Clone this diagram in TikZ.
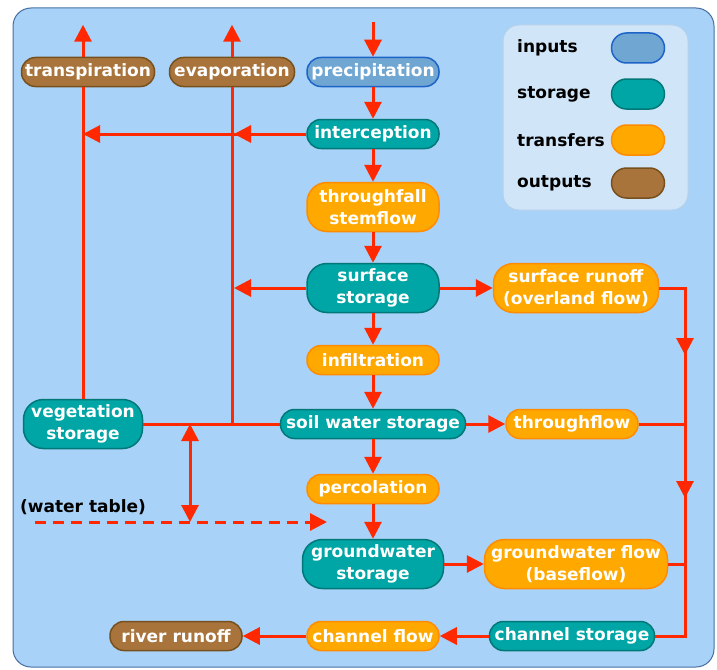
\documentclass[tikz,border=0pt]{standalone}
\usepackage{fontspec}
\setmainfont{DejaVu Sans}
\usetikzlibrary{positioning,arrows.meta}

\definecolor{bgblue}{RGB}{168,210,247}
\definecolor{bgline}{RGB}{70,110,160}
\definecolor{keybg}{RGB}{208,229,248}
\definecolor{keyline}{RGB}{180,208,236}
\definecolor{tealfill}{RGB}{0,165,165}
\definecolor{tealline}{RGB}{0,120,120}
\definecolor{orangefill}{RGB}{255,168,0}
\definecolor{orangeline}{RGB}{255,140,0}
\definecolor{brownfill}{RGB}{168,116,60}
\definecolor{brownline}{RGB}{120,80,30}
\definecolor{bluefill}{RGB}{112,166,210}
\definecolor{blueline}{RGB}{30,100,200}
\definecolor{flowred}{RGB}{255,40,0}

\begin{document}
\begin{tikzpicture}[x=1pt,y=-1pt,on grid,
    box/.style={rectangle,inner sep=0pt,line width=1.5pt,text=white,align=center,
      font=\bfseries\fontsize{17}{22}\selectfont,minimum width=132pt,minimum height=29pt,rounded corners=14pt},
    two/.style={minimum height=49pt,rounded corners=20pt},
    inp/.style={box,fill=bluefill,draw=blueline},
    store/.style={box,fill=tealfill,draw=tealline},
    trans/.style={box,fill=orangefill,draw=orangeline},
    outp/.style={box,fill=brownfill,draw=brownline},
    key/.style={text=black,font=\bfseries\fontsize{17}{22}\selectfont,anchor=west,inner sep=0pt},
    flow/.style={draw=flowred,line width=3pt},
    arrow/.style={flow,-{Triangle[length=17pt,width=17pt]}}]
    \useasboundingbox (0,0) rectangle (717,669);
    \draw[fill=bgblue,draw=bgline,line width=1pt,rounded corners=18pt] (13,8) rectangle (714,667);

    % legend
    \node[draw=keyline,fill=keybg,line width=1pt,rounded corners=16pt,minimum width=185pt,minimum height=185pt] (legend) at (595.5,117.5) {};
    \node[key] (kin) at (517,48) {inputs};
    \node[key] (kstore) at (517,94) {storage};
    \node[key] (ktrans) at (517,140) {transfers};
    \node[key] (kout) at (517,183) {outputs};
    \node[inp,minimum width=53pt,minimum height=30pt,rounded corners=15pt] at (638,48) {};
    \node[store,minimum width=53pt,minimum height=30pt,rounded corners=15pt] at (638,94) {};
    \node[trans,minimum width=53pt,minimum height=30pt,rounded corners=15pt] at (638,140) {};
    \node[outp,minimum width=53pt,minimum height=30pt,rounded corners=15pt] at (638,183) {};

    % main column
    \node[inp] (precip) at (373,72) {precipitation};
    \node[store] (intercept) [below=62pt of precip] {interception};
    \node[trans,two] (through) [below=73pt of intercept] {throughfall\\stemflow};
    \node[store,two] (surface) [below=81pt of through] {surface\\storage};
    \node[trans] (infil) [below=72pt of surface] {infiltration};
    \node[store,minimum width=185pt] (soil) [below=64pt of infil] {soil water storage};
    \node[trans] (perc) [below=65pt of soil] {percolation};
    \node[store,two,minimum width=141pt] (ground) [below=75pt of perc] {groundwater\\storage};
    \node[trans] (chflow) [below=72pt of ground] {channel flow};

    % right column
    \node[trans,two,minimum width=165pt] (runoff) [right=203pt of surface] {surface runoff\\(overland flow)};
    \node[trans] (thflow) [right=199pt of soil] {throughflow};
    \node[trans,two,minimum width=183pt] (gwflow) [right=203pt of ground] {groundwater flow\\(baseflow)};
    \node[store,minimum width=165pt] (chstore) [right=199pt of chflow] {channel storage};

    % left side
    \node[outp,minimum width=133pt] (transp) at (88,72) {transpiration};
    \node[outp,minimum width=125pt] (evap) at (232,72) {evaporation};
    \node[store,two,minimum width=119pt] (veg) at (83,424) {vegetation\\storage};
    \node[outp] (river) [left=197pt of chflow] {river runoff};
    \node[key,anchor=center] (wtable) at (83,507) {(water table)};

    \coordinate (rain) at (373,22);
    \coordinate (tj) at (83,134);
    \coordinate (ej) at (234,134);
    \coordinate (sj) at (234,288);
    \coordinate (wtop) at (190,424);
    \coordinate (wbot) at (190,522);
    \coordinate (wstart) at (35,522);
    \coordinate (wend) at (327,522);
    \coordinate (r1) at (685,355);
    \coordinate (r2) at (685,498);

    % down the middle
    \draw[arrow] (rain) -- (precip);
    \draw[arrow] (precip) -- (intercept);
    \draw[arrow] (intercept) -- (through);
    \draw[arrow] (through) -- (surface);
    \draw[arrow] (surface) -- (infil);
    \draw[arrow] (infil) -- (soil);
    \draw[arrow] (soil) -- (perc);
    \draw[arrow] (perc) -- (ground);

    % outputs up top
    \draw[arrow] (transp.north -| tj) -- ++(0,-32);
    \draw[arrow] (evap.north) -- ++(0,-32);
    \draw[flow] (veg.north) -- (transp.south -| tj);
    \draw[flow] (evap.south) -- (evap.south |- soil.west);
    \draw[arrow] (intercept) -- (tj);
    \draw[arrow] ([xshift=20pt]ej) -- (ej);
    \draw[arrow] (surface) -- (sj);
    \draw[flow] (veg.east) -- (soil.west);

    % water table
    \draw[arrow,{Triangle[length=17pt,width=17pt]}-{Triangle[length=17pt,width=17pt]}] (wtop) -- (wbot);
    \draw[arrow,dash pattern=on 11pt off 7pt] (wstart) -- (wend);

    % to the channel
    \draw[arrow] (surface) -- (runoff);
    \draw[arrow] (soil) -- (thflow);
    \draw[arrow] (ground) -- (gwflow);
    \draw[flow] (runoff.east) -| (r1) |- (chstore.east);
    \draw[arrow] ([yshift=20pt]r1) -- (r1);
    \draw[arrow] ([yshift=20pt]r2) -- (r2);
    \draw[flow] (thflow.east) -- (thflow.east -| r1);
    \draw[flow] (gwflow.east) -- (gwflow.east -| r1);
    \draw[arrow] (chstore) -- (chflow);
    \draw[arrow] (chflow) -- (river);
\end{tikzpicture}
\end{document}
